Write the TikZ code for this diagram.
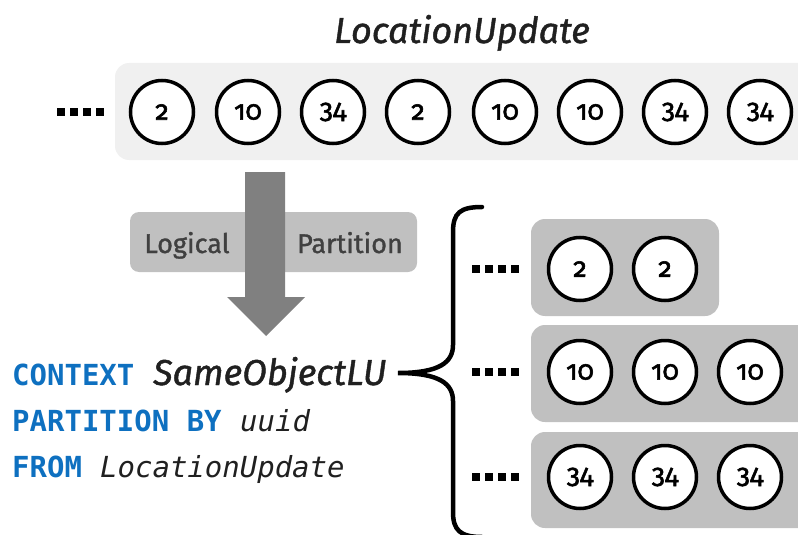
\documentclass[tikz,border=0pt]{standalone}
\usepackage{fontspec}
\setmainfont{Fira Sans}
\setmonofont{DejaVu Sans Mono}
\newfontfamily\numfont[Numbers=OldStyle, FakeBold=2]{Fira Sans}
\newfontfamily\medfont[FakeBold=1.2]{Fira Sans}
\newfontfamily\meditfont[FakeBold=1.2]{Fira Sans Italic}
\definecolor{topgray}{HTML}{F0F0F0}
\definecolor{boxgray}{HTML}{C0C0C0}
\definecolor{arrowgray}{HTML}{808080}
\definecolor{labgray}{HTML}{404040}
\definecolor{kwblue}{HTML}{0E70C0}
\definecolor{ink}{HTML}{202020}
\tikzset{
  circ/.style={circle, draw=black, line width=3.5pt, fill=white, minimum size=63pt, inner sep=0pt,
    font=\numfont\fontsize{27}{27}\selectfont},
  dotsq/.style={fill=black, minimum size=7.5pt, inner sep=0pt, rectangle},
  topbox/.style={fill=topgray, rounded corners=14pt},
  grpbox/.style={fill=boxgray, rounded corners=14pt},
  code/.style={anchor=base west, inner sep=0pt, font=\ttfamily\fontsize{29}{29}\selectfont},
  kw/.style={code, text=kwblue, font=\ttfamily\bfseries\fontsize{29}{29}\selectfont},
  idit/.style={code, text=ink, font=\ttfamily\itshape\fontsize{29}{29}\selectfont},
  pics/dotrow/.style={code={
    \foreach \i in {0,1,2,3} {\node[dotsq] (-d\i) at (\i*13,0) {};}
  }}
}
\begin{document}
\begin{tikzpicture}[x=1pt,y=-1pt]
\useasboundingbox (0,0) rectangle (798,535);
% title
\node[anchor=base, inner sep=0pt, text=ink, font=\meditfont\fontsize{36}{36}\selectfont] (title) at (462,43) {LocationUpdate};
% top stream
\fill[topbox] (115,63) rectangle (830,160);
\pic (topdots) at (61,112) {dotrow};
\foreach \x/\v [count=\k] in {162/2,248/10,333/34,418/2,505/10,590/10,675/34,760/34} {
  \node[circ] (t\k) at (\x,112) {\v};
}
% logical partition label
\node[fill=boxgray, rounded corners=9pt, minimum width=287pt, minimum height=60pt, inner sep=0pt] (lp) at (273.5,242) {};
\node[anchor=base, inner sep=0pt, text=labgray, font=\medfont\fontsize{27}{27}\selectfont] (lpl) at (187,253) {Logical};
\node[anchor=base, inner sep=0pt, text=labgray, font=\medfont\fontsize{27}{27}\selectfont] (lpr) at (350,253) {Partition};
% big arrow
\fill[arrowgray] (245,172) -- (285,172) -- (285,297) -- (305,297) -- (266,336) -- (227,297) -- (245,297) -- cycle;
% code
\node[kw] (c1) at (12,385) {CONTEXT};
\node[anchor=base west, inner sep=0pt, text=ink, font=\meditfont\fontsize{36}{36}\selectfont] (c1b) at (153,385) {SameObjectLU};
\node[kw] (c2) at (12,431) {PARTITION BY};
\node[idit] (c2b) at (240,431) {uuid};
\node[kw] (c3) at (12,477) {FROM};
\node[idit] (c3b) at (100,477) {LocationUpdate};
% brace
\coordinate (btop) at (482,207);
\coordinate (btip) at (398,373);
\coordinate (bbot) at (482,537);
\draw[line width=4.5pt, line cap=round] (btop) .. controls (460,207) and (453,213) .. (453,232)
  -- (453,345) .. controls (453,362) and (440,373) .. (btip)
  .. controls (440,373) and (453,384) .. (453,401)
  -- (453,512) .. controls (453,530) and (460,537) .. (bbot);
% groups
\fill[grpbox] (531,219) rectangle (719,316);
\fill[grpbox] (531,325) rectangle (830,422);
\fill[grpbox] (531,432) rectangle (830,528);
\pic (g1dots) at (476,269) {dotrow};
\pic (g2dots) at (476,372) {dotrow};
\pic (g3dots) at (476,477) {dotrow};
\node[circ] (a1) at (580,269) {2};
\node[circ] (a2) at (665,269) {2};
\node[circ] (b1) at (580,372) {10};
\node[circ] (b2) at (665,372) {10};
\node[circ] (b3) at (750,372) {10};
\node[circ] (e1) at (580,477) {34};
\node[circ] (e2) at (665,477) {34};
\node[circ] (e3) at (750,477) {34};
\end{tikzpicture}
\end{document}
